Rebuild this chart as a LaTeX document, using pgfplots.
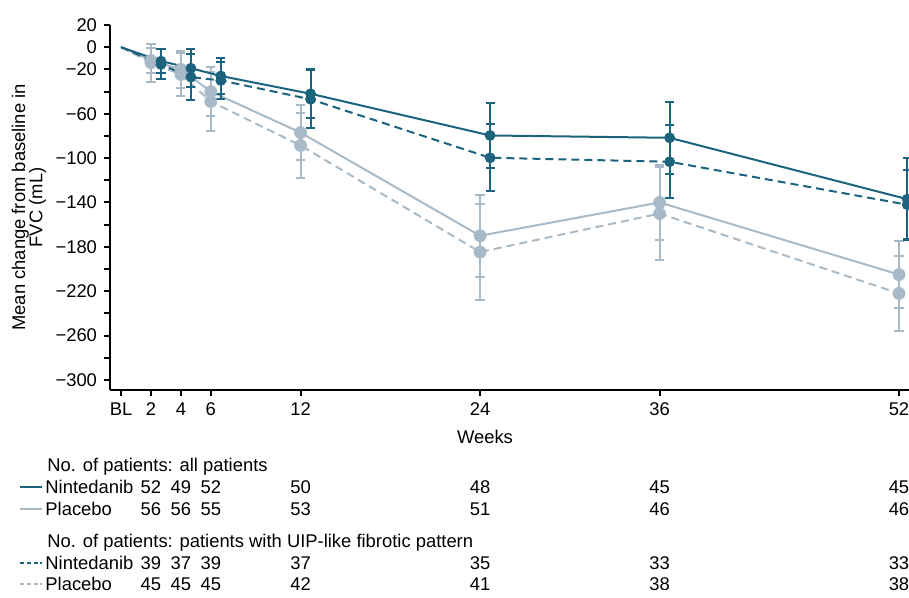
\documentclass[border=0pt]{standalone}
\usepackage{pgfplots}
\pgfplotsset{compat=1.18}
\usepackage{fontspec}
\setmainfont{Liberation Sans}
\definecolor{dk}{RGB}{28,99,125}
\definecolor{lt}{RGB}{168,186,199}
\pgfplotsset{
  ebar/.style={#1, only marks, mark=*, mark options={draw=none, fill=#1, solid},
    error bars/.cd, y dir=both, y explicit,
    error bar style={line width=1pt, #1, solid},
    error mark options={rotate=90, mark size=2.3pt, line width=1pt, #1, solid}},
}
\newcommand{\nrow}[8]{%
  \node[anchor=base] at (axis cs:2,#1) {#2};
  \node[anchor=base] at (axis cs:4,#1) {#3};
  \node[anchor=base] at (axis cs:6,#1) {#4};
  \node[anchor=base] at (axis cs:12,#1) {#5};
  \node[anchor=base] at (axis cs:24,#1) {#6};
  \node[anchor=base] at (axis cs:36,#1) {#7};
  \node[anchor=base] at (axis cs:52,#1) {#8};}
\begin{document}
\begin{tikzpicture}[font=\fontsize{9.2}{10.5}\selectfont, trim axis right]
\begin{axis}[
  scale only axis, width=399.5pt, height=182.5pt,
  xmin=-0.735, xmax=52.67, ymin=-309, ymax=20,
  axis x line*=bottom, axis y line*=left,
  axis line style={line width=1pt},
  tick align=outside, major tick length=3pt,
  tick style={line width=1pt, black},
  xtick={0,2,4,6,12,24,36,52}, xticklabels={BL,2,4,6,12,24,36,52},
  ytick={-300,-280,...,20},
  yticklabels={−300,,−260,,−220,,−180,,−140,,−100,,−60,,−20,0,20},
  xlabel={Weeks}, ylabel={Mean change from baseline in\\FVC (mL)},
  ylabel style={align=center, font=\fontsize{9.2}{8.6}\selectfont, at={(axis description cs:-0.1014,0.5)}, anchor=center},
  xlabel style={at={(axis description cs:0.4693,-0.1288)}, anchor=center},
  clip=false,
]
% Placebo, all patients
\addplot[lt, line width=1pt] coordinates {(0,0)(2,-12)(4,-20)(6,-40)(12,-77)(24,-170)(36,-140)(52,-205)};
% Placebo, UIP
\addplot[lt, line width=1pt, dash pattern=on 4pt off 2.5pt] coordinates {(0,0)(2,-14)(4,-24.6)(6,-49)(12,-88.6)(24,-184.7)(36,-150)(52,-222)};
\addplot[mark size=3pt, ebar=lt] coordinates {
 (2,-12) +- (0,11) (4,-20) +- (0,16.5) (6,-40) +- (0,22) (12,-77) +- (0,25)
 (24,-170) +- (0,37) (36,-140) +- (0,34) (52,-205) +- (0,30)};
\addplot[mark size=3pt, ebar=lt] coordinates {
 (2,-14) +- (0,17) (4,-24.6) +- (0,19) (6,-49) +- (0,27) (12,-88.6) +- (0,29)
 (24,-184.7) +- (0,43) (36,-150) +- (0,42) (52,-222) +- (0,34)};
% Nintedanib, all patients
\addplot[dk, line width=1pt] coordinates {(0,0)(2.67,-12.6)(4.67,-19)(6.67,-26)(12.67,-42)(24.67,-79.6)(36.67,-81.7)(52.55,-137)};
% Nintedanib, UIP
\addplot[dk, line width=1pt, dash pattern=on 4pt off 2.5pt] coordinates {(0,0)(2.67,-15.6)(4.67,-27)(6.67,-30)(12.67,-47)(24.67,-99.7)(36.67,-103.3)(52.55,-142)};
\addplot[mark size=2.5pt, ebar=dk] coordinates {
 (2.67,-12.6) +- (0,11) (4.67,-19) +- (0,17) (6.67,-26) +- (0,16) (12.67,-42) +- (0,22)
 (24.67,-79.6) +- (0,29) (36.67,-81.7) +- (0,32.5) (52.55,-137) +- (0,37)};
\addplot[mark size=2.5pt, ebar=dk] coordinates {
 (2.67,-15.6) +- (0,13.5) (4.67,-27) +- (0,21) (6.67,-30) +- (0,17) (12.67,-47) +- (0,26)
 (24.67,-99.7) +- (0,30) (36.67,-103.3) +- (0,33) (52.55,-142) +- (0,31)};
% bounding helpers
\path (axis cs:-8.09,42.5) (axis cs:-8.09,-491.1);
% number at risk table
\node[anchor=base west, inner sep=0pt] at (axis cs:-4.95,-382.2) {No. of patients: all patients};
\node[anchor=base west, inner sep=0pt] at (axis cs:-5.08,-402.0) {Nintedanib};
\node[anchor=base west, inner sep=0pt] at (axis cs:-5.08,-421.8) {Placebo};
\node[anchor=base west, inner sep=0pt] at (axis cs:-4.95,-450.7) {No. of patients: patients with UIP-like fibrotic pattern};
\node[anchor=base west, inner sep=0pt] at (axis cs:-5.08,-470.5) {Nintedanib};
\node[anchor=base west, inner sep=0pt] at (axis cs:-5.08,-489.5) {Placebo};
\draw[dk, line width=1pt] (axis cs:-6.75,-396.6) -- (axis cs:-5.28,-396.6);
\draw[lt, line width=1pt] (axis cs:-6.75,-416.4) -- (axis cs:-5.28,-416.4);
\draw[dk, line width=1pt, dash pattern=on 2pt off 1.4pt] (axis cs:-6.75,-465.1) -- (axis cs:-5.28,-465.1);
\draw[lt, line width=1pt, dash pattern=on 2pt off 1.4pt] (axis cs:-6.75,-484.1) -- (axis cs:-5.28,-484.1);
\nrow{-402.0}{52}{49}{52}{50}{48}{45}{45}
\nrow{-421.8}{56}{56}{55}{53}{51}{46}{46}
\nrow{-470.5}{39}{37}{39}{37}{35}{33}{33}
\nrow{-489.5}{45}{45}{45}{42}{41}{38}{38}
\end{axis}
\end{tikzpicture}
\end{document}
